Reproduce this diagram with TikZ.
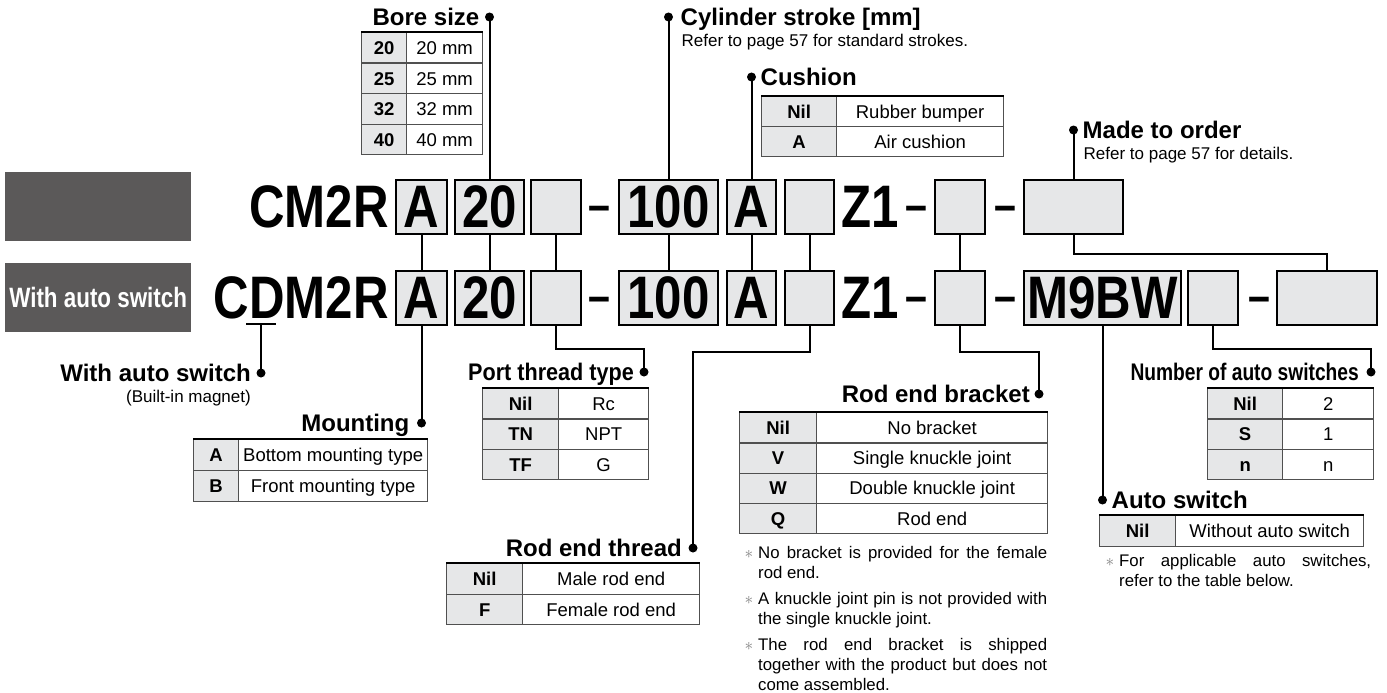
\documentclass[tikz,border=0pt]{standalone}
\usepackage{fontspec}
\setmainfont{Liberation Sans}
\newfontfamily\condfont[FakeStretch=0.8]{Liberation Sans}
\newfontfamily\semicondfont[FakeStretch=0.9]{Liberation Sans}
\newfontfamily\codefont[FakeStretch=0.82]{Liberation Sans}
\usepackage{xcolor}
\usetikzlibrary{positioning}
\definecolor{boxgray}{RGB}{230,231,232}
\definecolor{bannergray}{RGB}{91,89,89}
\definecolor{tabline}{RGB}{80,80,80}
\hyphenpenalty=10000
\exhyphenpenalty=10000
\newcommand{\pxsize}[2]{\fontsize{#1}{#2}\selectfont}
% option table: name, left, divider, right, top, row height, key/value rows
\newcommand{\opttab}[7]{%
  \foreach \kk/\vv [count=\i] in {#7} {
    \node[keycell, minimum width={#3-#2}, minimum height=#6, anchor=north west]
      (#1-k\i) at (#2,{#5+(\i-1)*#6}) {\kk};
    \node[valcell, minimum width={#4-#3}, minimum height=#6, anchor=north west]
      (#1-v\i) at (#3,{#5+(\i-1)*#6}) {\vv};
  }
  \draw[toprule] (#1-k1.north west) -- (#1-v1.north east);
}
\newcommand{\notemark}{\leavevmode\llap{\textcolor{gray}{$\ast$}\hspace{5pt}}}

\begin{document}
\begin{tikzpicture}[x=1pt,y=-1pt,
  conn/.style={line width=2pt},
  codebox/.style={draw, fill=boxgray, line width=2pt, minimum height=54, inner sep=0pt,
    font=\codefont\bfseries\pxsize{60}{60}},
  codetext/.style={inner sep=0pt, font=\codefont\bfseries\pxsize{60}{60}},
  dashtext/.style={inner sep=0pt, font=\codefont\bfseries\pxsize{48}{48}, anchor=base},
  title/.style={inner sep=0pt, font=\bfseries\pxsize{24}{28}, text height=17.2pt, text depth=0pt},
  subtext/.style={inner sep=0pt, font=\pxsize{17}{20}},
  keycell/.style={draw=tabline, fill=boxgray, line width=1.3pt, inner sep=0pt,
    font=\bfseries\pxsize{18.5}{20}, text height=13.2pt, text depth=0pt},
  valcell/.style={draw=tabline, fill=white, line width=1.3pt, inner sep=0pt,
    font=\pxsize{18.5}{20}, text height=13.2pt, text depth=0pt},
  toprule/.style={line width=2.2pt},
  note/.style={inner sep=0pt, align=justify, font=\pxsize{16.8}{20}},
  banner/.style={fill=bannergray, minimum width=186, minimum height=69, inner sep=0pt,
    text=white, font=\condfont\bfseries\pxsize{28}{30}}]
\useasboundingbox (0,0) rectangle (1387,693);

% grey labels on the left
\node[banner, anchor=north west] (ban1) at (5,172) {};
\node[banner, anchor=north west] (ban2) at (5,263) {With auto switch};

% the two order codes
\node[codetext, anchor=east] (r1base) at (389,207) {CM2R};
\node[codetext, anchor=east] (r2base) at (389,298) {CDM2R};
\foreach \r/\y in {1/207,2/298} {
  \node[codebox, minimum width=51] (r\r mnt) at (421.5,\y) {A};
  \node[codebox, minimum width=69] (r\r bore) at (489.5,\y) {20};
  \node[codebox, minimum width=50] (r\r port) at (556,\y) {};
  \node[dashtext] (r\r d1) at (599,\y+14.5) {–};
  \node[codebox, minimum width=99] (r\r strk) at (668.5,\y) {100};
  \node[codebox, minimum width=49] (r\r cush) at (751.5,\y) {A};
  \node[codebox, minimum width=49] (r\r rod) at (809.5,\y) {};
  \node[codetext, anchor=west] (r\r z) at (841,\y) {Z1};
  \node[dashtext] (r\r d2) at (916,\y+14.5) {–};
  \node[codebox, minimum width=50] (r\r brk) at (960,\y) {};
  \node[dashtext] (r\r d3) at (1005,\y+14.5) {–};
}
\node[codebox, minimum width=99] (r1mto) at (1073.5,207) {};
\node[codebox, minimum width=157] (r2sw) at (1102.5,298) {M9BW};
\node[codebox, minimum width=50] (r2num) at (1213,298) {};
\node[dashtext] (r2d4) at (1259,312.5) {–};
\node[codebox, minimum width=100] (r2mto) at (1327,298) {};

\foreach \n in {mnt,bore,port,strk,cush,rod,brk}
  \draw[conn] (r1\n.south) -- (r2\n.north);
\draw[conn] (r1mto.south) -- ++(0,19) -| (r2mto.north);

% labels above
\coordinate (bore-dot) at (r1bore.north |- 0,17);
\draw[conn] (r1bore.north) -- (bore-dot);
\fill (bore-dot) circle (4.5pt);
\node[title, left=10pt of bore-dot] (bore-t) {Bore size};
\opttab{bore}{361}{406}{482}{32}{30.5}{20/20 mm,25/25 mm,32/32 mm,40/40 mm}

\coordinate (strk-dot) at (r1strk.north |- 0,17);
\draw[conn] (r1strk.north) -- (strk-dot);
\fill (strk-dot) circle (4.5pt);
\node[title, right=12pt of strk-dot] (strk-t) {Cylinder stroke [mm]};
\node[subtext, below right=8pt and 1pt of strk-t.south west] (strk-s) {Refer to page 57 for standard strokes.};

\coordinate (cush-dot) at (r1cush.north |- 0,77);
\draw[conn] (r1cush.north) -- (cush-dot);
\fill (cush-dot) circle (4.5pt);
\node[title, right=9pt of cush-dot] (cush-t) {Cushion};
\opttab{cush}{761}{836}{1003}{96}{30}{Nil/Rubber bumper,A/Air cushion}

\coordinate (mto-dot) at (r1mto.north |- 0,130);
\draw[conn] (r1mto.north) -- (mto-dot);
\fill (mto-dot) circle (4.5pt);
\node[title, right=9pt of mto-dot] (mto-t) {Made to order};
\node[subtext, below right=8pt and 1pt of mto-t.south west] (mto-s) {Refer to page 57 for details.};

% labels below
\coordinate (sw-mark) at (261,324);
\coordinate (sw-dot) at (261,373);
\draw[conn] ([xshift=-15pt]sw-mark) -- ([xshift=15pt]sw-mark);
\draw[conn] (sw-mark) -- (sw-dot);
\fill (sw-dot) circle (4.5pt);
\node[title, left=10pt of sw-dot] (sw-t) {With auto switch};
\node[subtext, below left=8pt and 0pt of sw-t.south east] (sw-s) {(Built-in magnet)};

\coordinate (mnt-dot) at (r2mnt.south |- 0,423);
\draw[conn] (r2mnt.south) -- (mnt-dot);
\fill (mnt-dot) circle (4.5pt);
\node[title, left=12pt of mnt-dot] (mnt-t) {Mounting};
\opttab{mnt}{193}{238}{427}{439}{31}{A/Bottom mounting type,B/Front mounting type}

\coordinate (port-dot) at (644,372);
\draw[conn] (r2port.south) -- ++(0,23) -| (port-dot);
\fill (port-dot) circle (4.5pt);
\node[title, font=\semicondfont\bfseries\pxsize{24}{28}, left=10pt of port-dot] (port-t) {Port thread type};
\opttab{port}{482}{558}{648}{388}{30.3}{Nil/Rc,TN/NPT,TF/G}

\coordinate (rodt-dot) at (693,548);
\draw[conn] (r2rod.south) -- ++(0,26) -| (rodt-dot);
\fill (rodt-dot) circle (4.5pt);
\node[title, left=11pt of rodt-dot] (rodt-t) {Rod end thread};
\opttab{rodt}{446}{522}{699}{563}{30.5}{Nil/Male rod end,F/Female rod end}

\coordinate (brk-dot) at (1039,394);
\draw[conn] (r2brk.south) -- ++(0,26) -| (brk-dot);
\fill (brk-dot) circle (4.5pt);
\node[title, left=9pt of brk-dot] (brk-t) {Rod end bracket};
\opttab{brk}{739}{816}{1047}{412}{30.25}{Nil/No bracket,V/Single knuckle joint,W/Double knuckle joint,Q/Rod end}
\node[note, text width=289pt, anchor=north west] (brk-n1) at (758,546)
  {\notemark No bracket is provided for the female rod end.};
\node[note, text width=289pt, anchor=north west] (brk-n2) at (758,592)
  {\notemark A knuckle joint pin is not provided with the single knuckle joint.};
\node[note, text width=289pt, anchor=north west] (brk-n3) at (758,638)
  {\notemark The rod end bracket is shipped together with the product but does not\linebreak come assembled.};

\coordinate (asw-dot) at (r2sw.south |- 0,500);
\draw[conn] (r2sw.south) -- (asw-dot);
\fill (asw-dot) circle (4.5pt);
\node[title, right=9pt of asw-dot] (asw-t) {Auto switch};
\opttab{asw}{1099}{1175}{1363}{515}{31}{Nil/Without auto switch}
\node[note, text width=252pt, anchor=north west] (asw-n) at (1119,554)
  {\notemark For applicable auto switches,\linebreak refer to the table below.};

\coordinate (num-dot) at (1371,372);
\draw[conn] (r2num.south) -- ++(0,23) -| (num-dot);
\fill (num-dot) circle (4.5pt);
\node[title, font=\condfont\bfseries\pxsize{24}{28}, left=12pt of num-dot] (num-t) {Number of auto switches};
\opttab{num}{1207}{1282}{1373}{388}{30.3}{Nil/2,S/1,n/n}
\end{tikzpicture}
\end{document}
